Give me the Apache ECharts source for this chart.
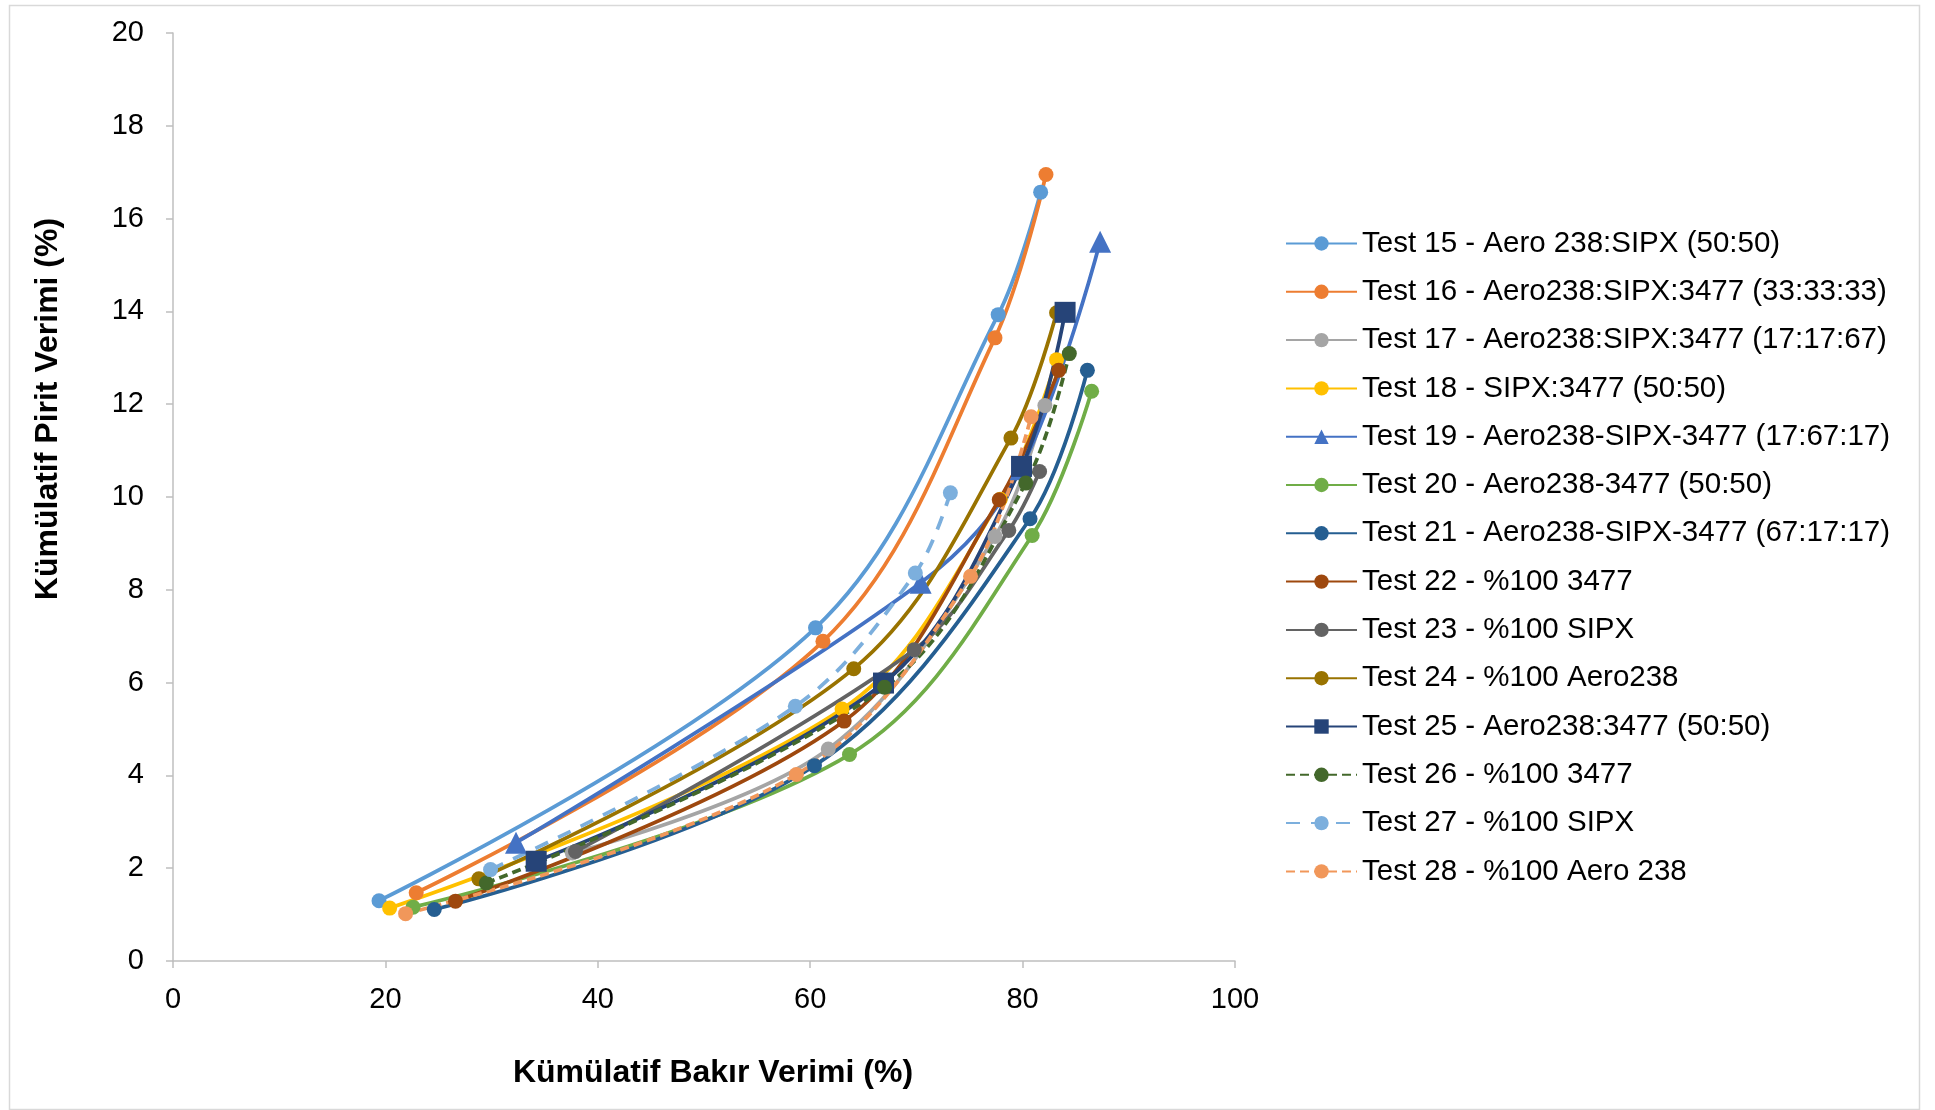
<!DOCTYPE html>
<html>
<head>
<meta charset="utf-8">
<script src="https://cdn.jsdelivr.net/npm/echarts@6/dist/echarts.min.js"></script>
<style>html,body{margin:0;padding:0;background:#fff}#c{width:1935px;height:1110px}</style>
</head>
<body>
<div id="c"></div>
<script>
const seriesNames = [
  'Test 15 - Aero 238:SIPX (50:50)',
  'Test 16 - Aero238:SIPX:3477 (33:33:33)',
  'Test 17 - Aero238:SIPX:3477 (17:17:67)',
  'Test 18 - SIPX:3477 (50:50)',
  'Test 19 - Aero238-SIPX-3477 (17:67:17)',
  'Test 20 - Aero238-3477 (50:50)',
  'Test 21 - Aero238-SIPX-3477 (67:17:17)',
  'Test 22 - %100 3477',
  'Test 23 - %100 SIPX',
  'Test 24 - %100 Aero238',
  'Test 25 - Aero238:3477 (50:50)',
  'Test 26 - %100 3477',
  'Test 27 - %100 SIPX',
  'Test 28 - %100 Aero 238'
];
// Kümülatif Bakır Verimi (%) values per test
const copper15 = [19.4, 60.5, 77.7, 81.7];
const copper16 = [22.9, 61.2, 77.4, 82.2];
const copper17 = [37.6, 61.7, 77.4, 82.1];
const copper18 = [20.4, 63.0, 77.9, 83.2];
const copper19 = [32.3, 70.4, 79.8, 87.3];
const copper20 = [22.6, 63.7, 80.9, 86.5];
const copper21 = [24.6, 60.4, 80.7, 86.1];
const copper22 = [26.6, 63.2, 77.8, 83.4];
const copper23 = [37.9, 69.8, 78.7, 81.6];
const copper24 = [28.8, 64.1, 78.9, 83.2];
const copper25 = [34.2, 66.9, 79.9, 84.0];
const copper26 = [29.5, 67.0, 80.3, 84.4];
const copper27 = [29.9, 58.6, 69.9, 73.2];
const copper28 = [21.9, 58.7, 75.1, 80.8];
// Kümülatif Pirit Verimi (%) values per test
const pyrite15 = [1.30, 7.18, 13.93, 16.57];
const pyrite16 = [1.47, 6.89, 13.43, 16.95];
const pyrite17 = [2.33, 4.57, 9.15, 11.97];
const pyrite18 = [1.14, 5.43, 9.95, 12.96];
const pyrite19 = [2.55, 8.15, 10.6, 15.5];
const pyrite20 = [1.16, 4.45, 9.17, 12.28];
const pyrite21 = [1.11, 4.21, 9.53, 12.73];
const pyrite22 = [1.29, 5.17, 9.94, 12.73];
const pyrite23 = [2.36, 6.71, 9.28, 10.55];
const pyrite24 = [1.77, 6.30, 11.27, 13.97];
const pyrite25 = [2.15, 5.99, 10.66, 13.98];
const pyrite26 = [1.68, 5.90, 10.30, 13.09];
const pyrite27 = [1.97, 5.49, 8.36, 10.09];
const pyrite28 = [1.02, 4.02, 8.29, 11.73];

const copperAll = [copper15,copper16,copper17,copper18,copper19,copper20,copper21,copper22,copper23,copper24,copper25,copper26,copper27,copper28];
const pyriteAll = [pyrite15,pyrite16,pyrite17,pyrite18,pyrite19,pyrite20,pyrite21,pyrite22,pyrite23,pyrite24,pyrite25,pyrite26,pyrite27,pyrite28];

const xTicks = [0, 20, 40, 60, 80, 100];
const yTicks = [0, 2, 4, 6, 8, 10, 12, 14, 16, 18, 20];

const colors = ['#5B9BD5','#ED7D31','#A5A5A5','#FFC000','#4472C4','#70AD47','#255E91','#9E480E','#636363','#997300','#264478','#43682B','#7CAFDD','#F1975A'];
const symbols = ['circle','circle','circle','circle','triangle','circle','circle','circle','circle','circle','rect','circle','circle','circle'];
const symSizes = [15,15,15,15,22,15,15,15,15,15,21,15,15,15];
const dashes = ['solid','solid','solid','solid','solid','solid','solid','solid','solid','solid','solid',[9,5],[14,11],[9,5]];

const FONT = 'Liberation Sans, Arial, sans-serif';

const series = seriesNames.map((name, i) => ({
  name: name,
  type: 'line',
  smooth: 0.35,
  symbol: symbols[i],
  symbolSize: symSizes[i],
  showAllSymbol: true,
  data: copperAll[i].map((x, k) => [x, pyriteAll[i][k]]),
  lineStyle: { color: colors[i], width: 3.75, type: dashes[i] },
  itemStyle: { color: colors[i], borderWidth: 0 },
  emphasis: { disabled: true },
  animation: false
}));

const chart = echarts.init(document.getElementById('c'), null, { renderer: 'canvas' });
chart.setOption({
  animation: false,
  color: colors,
  textStyle: { fontFamily: FONT },
  graphic: [{
    type: 'rect', left: 7, top: 3, shape: { width: 1910, height: 1104 },
    style: { fill: 'none', stroke: '#D9D9D9', lineWidth: 1.5 }, silent: true, z: -10
  }],
  grid: { left: 173, right: 700, top: 33, bottom: 149, containLabel: false },
  xAxis: {
    type: 'value', min: 0, max: 100, interval: 20,
    name: 'Kümülatif Bakır Verimi (%)',
    nameLocation: 'middle', nameGap: 96,
    nameTextStyle: { fontFamily: FONT, fontSize: 32, fontWeight: 'bold', color: '#000', padding: [0, 0, 0, 18] },
    axisLine: { show: true, lineStyle: { color: '#BFBFBF', width: 1.5 } },
    axisTick: { show: true, length: 7, lineStyle: { color: '#BFBFBF', width: 1.5 } },
    axisLabel: { fontFamily: FONT, fontSize: 29, color: '#000', margin: 24,
      formatter: v => xTicks.includes(v) ? String(v) : '' },
    splitLine: { show: false }
  },
  yAxis: {
    type: 'value', min: 0, max: 20, interval: 2,
    name: 'Kümülatif Pirit Verimi (%)',
    nameLocation: 'middle', nameGap: 109, nameRotate: 90,
    nameTextStyle: { fontFamily: FONT, fontSize: 32, fontWeight: 'bold', color: '#000', padding: [0, 0, 0, 176] },
    axisLine: { show: true, lineStyle: { color: '#BFBFBF', width: 1.5 } },
    axisTick: { show: true, length: 7, lineStyle: { color: '#BFBFBF', width: 1.5 } },
    axisLabel: { fontFamily: FONT, fontSize: 29, color: '#000', margin: 29,
      formatter: v => yTicks.includes(v) ? String(v) : '' },
    splitLine: { show: false }
  },
  legend: {
    orient: 'vertical', left: 1280, top: 223.5,
    itemWidth: 71, itemHeight: 18, itemGap: 18.3,
    textStyle: { fontFamily: FONT, fontSize: 29.5, color: '#000' },
    data: seriesNames
  },
  series: series
});
</script>
</body>
</html>
